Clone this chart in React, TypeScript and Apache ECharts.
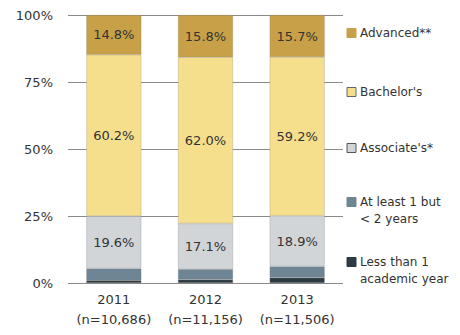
import React, { useEffect, useRef } from "react";
import * as echarts from "echarts";

const categories = ["2011\n(n=10,686)", "2012\n(n=11,156)", "2013\n(n=11,506)"];
const lessThan1 = [1.0, 1.3, 2.0];
const atLeast1 = [4.4, 3.8, 4.2];
const associates = [19.6, 17.1, 18.9];
const bachelors = [60.2, 62.0, 59.2];
const advanced = [14.8, 15.8, 15.7];
const yTicks = [0, 25, 50, 75, 100];

const COLORS = {
  less: "#2d3b42",
  atleast: "#6d8594",
  assoc: "#d2d5d8",
  bach: "#f5df8c",
  adv: "#c8a048",
};

const FONT = "DejaVu Sans";

export default function App() {
  const ref = useRef<HTMLDivElement>(null);
  useEffect(() => {
    if (!ref.current) return;
    const chart = echarts.init(ref.current, null, { renderer: "svg" });
    const label = {
      show: true,
      position: "inside" as const,
      formatter: (p: any) => p.value.toFixed(1) + "%",
      color: "#333",
      fontFamily: FONT,
      fontSize: 13,
    };
    const mk = (name: string, data: number[], color: string, withLabel: boolean) => ({
      name,
      type: "bar" as const,
      stack: "total",
      data,
      barWidth: 55,
      itemStyle: { color, borderColor: "rgba(120,120,120,0.5)", borderWidth: 0.5 },
      label: withLabel ? label : { show: false },
    });
    const legendItems = [
      { y: 33, lines: ["Advanced**"], color: COLORS.adv, border: COLORS.adv },
      { y: 92, lines: ["Bachelor's"], color: COLORS.bach, border: "#666" },
      { y: 148, lines: ["Associate's*"], color: COLORS.assoc, border: "#555" },
      { y: 202, lines: ["At least 1 but", "< 2 years"], color: COLORS.atleast, border: COLORS.atleast },
      { y: 262, lines: ["Less than 1", "academic year"], color: COLORS.less, border: COLORS.less },
    ];
    const graphic: any[] = [];
    legendItems.forEach((it) => {
      graphic.push({
        type: "rect",
        shape: { x: 347, y: it.y - 4.5, width: 9, height: 9 },
        style: { fill: it.color, stroke: it.border, lineWidth: 1 },
      });
      it.lines.forEach((ln, i) => {
        graphic.push({
          type: "text",
          x: 360,
          y: it.y + i * 17,
          style: {
            text: ln,
            fill: "#333",
            font: `12px "${FONT}"`,
            textVerticalAlign: "middle",
            verticalAlign: "middle",
          },
        });
      });
    });
    chart.setOption({
      animation: false,
      grid: { left: 68, right: 117, top: 15, bottom: 52 },
      xAxis: {
        type: "category",
        data: categories,
        axisLine: { show: false },
        axisTick: { show: false },
        axisLabel: {
          interval: 0,
          color: "#333",
          fontFamily: FONT,
          fontSize: 13,
          lineHeight: 20,
          margin: 6,
        },
      },
      yAxis: {
        type: "value",
        min: yTicks[0],
        max: yTicks[yTicks.length - 1],
        interval: 25,
        axisLine: { show: false },
        axisTick: { show: false },
        splitLine: { lineStyle: { color: "#8a8a8a", width: 1 } },
        axisLabel: {
          color: "#333",
          fontFamily: FONT,
          fontSize: 13,
          margin: 15,
          formatter: (v: number) => v + "%",
        },
      },
      series: [
        mk("Less than 1 academic year", lessThan1, COLORS.less, false),
        mk("At least 1 but < 2 years", atLeast1, COLORS.atleast, false),
        mk("Associate's*", associates, COLORS.assoc, true),
        mk("Bachelor's", bachelors, COLORS.bach, true),
        mk("Advanced**", advanced, COLORS.adv, true),
      ],
      graphic,
    });
    return () => chart.dispose();
  }, []);
  return <div ref={ref} style={{ width: 460, height: 335, margin: -8 }} />;
}
